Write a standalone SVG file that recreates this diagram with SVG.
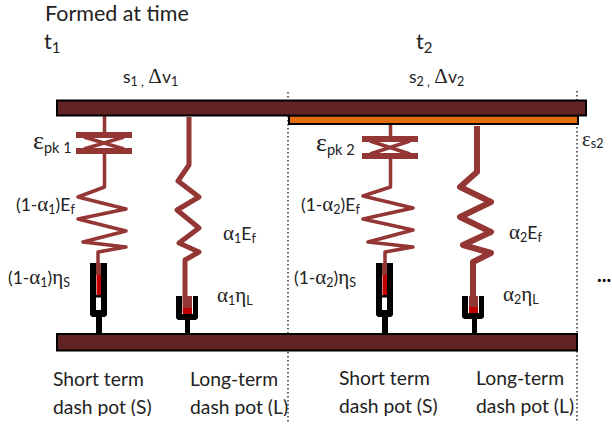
<svg xmlns="http://www.w3.org/2000/svg" width="612" height="425" viewBox="0 0 612 425">
<style>
text{font-family:"Lato","Open Sans",sans-serif;fill:#222;font-size:19.3px}
.big{font-size:21.5px}
.lab{font-size:17.5px}
.g{font-family:"Liberation Serif",serif;font-size:21px}
.sub{font-size:12.500px}
.bar{fill:#622423;stroke:#000;stroke-width:2}
.sp{fill:none;stroke:#943634;stroke-linejoin:round}
.blk{fill:#000}
.red{fill:#c00000}
.wh{fill:#fff}
.dot{stroke:#111;stroke-width:1.3;stroke-dasharray:1.5 2.5;fill:none}
</style>
<rect id="bg" width="612" height="425" fill="#fff"/>
<text class="big" x="45" y="21">Formed at time</text>
<text class="big" x="44" y="49">t<tspan dy="4" style="font-size:15px">1</tspan></text>
<text class="big" x="416" y="49">t<tspan dy="4" style="font-size:15px">2</tspan></text>
<text class="lab" x="123" y="83">s<tspan class="sub" dy="3">1 ,</tspan><tspan dy="-3"> </tspan><tspan class="g">Δ</tspan>v<tspan class="sub" dy="3">1</tspan></text>
<text class="lab" x="409" y="83">s<tspan class="sub" dy="3">2 ,</tspan><tspan dy="-3"> </tspan><tspan class="g">Δ</tspan>v<tspan class="sub" dy="3">2</tspan></text>
<text x="53" y="386">Short term</text>
<text x="190" y="386">Long-term</text>
<text x="339" y="385">Short term</text>
<text x="476" y="385">Long-term</text>
<text x="53" y="414">dash pot (S)</text>
<text x="190" y="414">dash pot (L)</text>
<text x="339" y="413">dash pot (S)</text>
<text x="476" y="413">dash pot (L)</text>
<rect id="crop" y="416" width="612" height="9" fill="#fff"/>
<g id="connectors">
<path class="dot" d="M288 92V422M577 91V422"/>
<g id="spring-s1"><path class="sp" stroke-width="3.500" d="M104.500 116V132M104.500 154V187L78 197L126 209L78 219L126 231L83 242L126 247L98 252V272"/><path class="sp" stroke-width="6" d="M76 135H132M76 151H132"/><path class="sp" stroke-width="3.500" d="M84 137L124 149M124 137L84 149"/></g>
<g id="spring-l1"><path class="sp" stroke-width="5" d="M189 117V165L178 181L199 197L177 210L199 228L179 243L199 252L185 260V313"/></g>
<g id="spring-s2"><path class="sp" stroke-width="3.500" d="M390.500 124V136M390.500 159V187L363 196L413 208L363 219L413 230L368 242L413 247L385 252V272"/><path class="sp" stroke-width="6" d="M362 139H418M362 156H418"/><path class="sp" stroke-width="3.500" d="M370 141L410 154M410 141L370 154"/></g>
<g id="spring-l2"><path class="sp" stroke-width="6" d="M477 126V172L460 187L491 202L460 217L491 232L463 245L491 253L473 262V313"/></g>
</g>
<g id="dashpot-s1"><path class="blk" d="M90 263H107V315L105 317H102V334H96V317H92L90 315Z"/><rect class="wh" x="96" y="263" width="5" height="47"/><rect x="96" y="263" width="5" height="12" fill="#943634"/><rect class="red" x="96.500" y="275" width="4.500" height="20"/><rect x="95" y="295" width="7" height="2.500" class="blk"/></g>
<g id="dashpot-l1"><path class="blk" d="M176 296H182V314H193V296H198V318L196 320H190V334H185V320H178L176 318Z"/><rect x="183" y="296" width="9" height="12" fill="#943634"/><rect class="red" x="183" y="308" width="9" height="6"/></g>
<g id="dashpot-s2"><path class="blk" d="M376 263H393V315L391 317H388V334H382V317H378L376 315Z"/><rect class="wh" x="382" y="263" width="5" height="47"/><rect x="382" y="263" width="5" height="12" fill="#943634"/><rect class="red" x="382.500" y="275" width="4.500" height="20"/><rect x="381" y="295" width="7" height="2.500" class="blk"/></g>
<g id="dashpot-l2"><path class="blk" d="M462 296H468V313H479V296H484V317L482 319H477V334H472V319H464L462 317Z"/><rect x="469" y="296" width="9" height="11" fill="#943634"/><rect class="red" x="469" y="307" width="9" height="6"/></g>
<rect id="bar-orange" x="289" y="115.500" width="289" height="8.500" fill="#e36c0a" stroke="#000" stroke-width="2"/>
<rect id="bar-top" class="bar" x="57" y="100.500" width="529" height="15"/>
<rect id="bar-bottom" class="bar" x="57" y="334" width="520" height="16.500"/>
<text x="33" y="149"><tspan class="g" style="font-size:26px">ε</tspan><tspan dy="4" style="font-size:14.500px">pk 1</tspan></text>
<text x="316" y="151"><tspan class="g" style="font-size:26px">ε</tspan><tspan dy="4" style="font-size:14.500px">pk 2</tspan></text>
<text x="582" y="146"><tspan class="g">ε</tspan><tspan class="sub" dy="2">s2</tspan></text>
<text class="lab" x="16" y="211">(1-<tspan class="g">α</tspan><tspan class="sub" dy="3">1</tspan><tspan dy="-3">)E</tspan><tspan class="sub" dy="3">f</tspan></text>
<text class="lab" x="301" y="211">(1-<tspan class="g">α</tspan><tspan class="sub" dy="3">2</tspan><tspan dy="-3">)E</tspan><tspan class="sub" dy="3">f</tspan></text>
<text class="lab" x="8" y="284">(1-<tspan class="g">α</tspan><tspan class="sub" dy="3">1</tspan><tspan dy="-3">)</tspan><tspan class="g">η</tspan><tspan class="sub" dy="3">S</tspan></text>
<text class="lab" x="294" y="284">(1-<tspan class="g">α</tspan><tspan class="sub" dy="3">2</tspan><tspan dy="-3">)</tspan><tspan class="g">η</tspan><tspan class="sub" dy="3">S</tspan></text>
<text class="lab" x="223" y="240"><tspan class="g">α</tspan><tspan class="sub" dy="3">1</tspan><tspan dy="-3">E</tspan><tspan class="sub" dy="3">f</tspan></text>
<text class="lab" x="509" y="239"><tspan class="g">α</tspan><tspan class="sub" dy="3">2</tspan><tspan dy="-3">E</tspan><tspan class="sub" dy="3">f</tspan></text>
<text class="lab" x="217" y="302"><tspan class="g">α</tspan><tspan class="sub" dy="3">1</tspan><tspan class="g" dy="-3">η</tspan><tspan class="sub" dy="3">L</tspan></text>
<text class="lab" x="503" y="301"><tspan class="g">α</tspan><tspan class="sub" dy="3">2</tspan><tspan class="g" dy="-3">η</tspan><tspan class="sub" dy="3">L</tspan></text>
<text x="597" y="282" style="font-size:20px;font-weight:700;fill:#000">...</text>
</svg>
